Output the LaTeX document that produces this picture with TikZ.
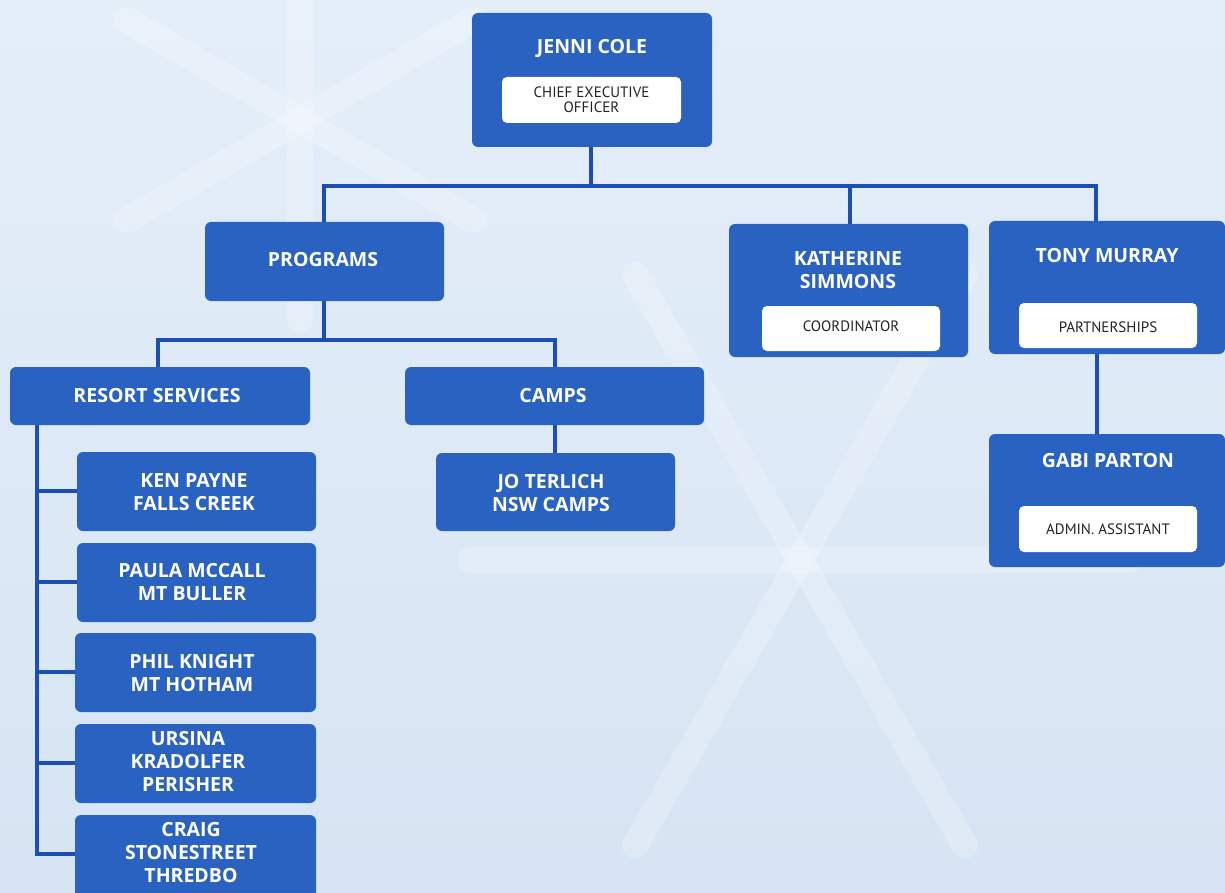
\documentclass[tikz,border=0pt]{standalone}
\usepackage{fontspec}
\setmainfont{Open Sans}
\newfontfamily\rolefont{PT Sans}
\definecolor{bgA}{HTML}{E4EEF9}
\definecolor{bgB}{HTML}{D6E4F3}
\definecolor{boxblue}{HTML}{2A62C2}
\definecolor{lineblue}{HTML}{1C4FB3}
\definecolor{roletext}{HTML}{222222}
\tikzset{
  x=1pt, y=-1pt,
  card/.style={fill=boxblue, rounded corners=6pt, draw=none},
  title/.style={text=white, font=\fontsize{19.5}{23}\selectfont\bfseries, align=center},
  rolebox/.style={fill=white, rounded corners=5pt, text=roletext, font=\rolefont\fontsize{15}{15}\selectfont, align=center, inner sep=0pt},
  conn/.style={draw=lineblue, line width=4pt},
  flake/.style={draw=white, opacity=0.22, line width=26pt, line cap=round},
}
\begin{document}
\begin{tikzpicture}
\useasboundingbox (0,0) rectangle (1225,893);
\shade[top color=bgA, bottom color=bgB] (0,0) rectangle (1225,893);
% faint snowflake hints
\foreach \a in {0,60,120} {
  \draw[flake] (800,560) ++(\a:-330) -- ++(\a:660);
}
\foreach \a in {30,90,150} {
  \draw[flake] (300,120) ++(\a:-200) -- ++(\a:400);
}

% CEO
\path[card] (472,13) rectangle (712,147);
\node[title] (ceo) at (592,48) {JENNI COLE};
\path[rolebox] (502,77) rectangle (681,123);
\node[rolebox, fill=none] (ceor) at (591.5,100) {CHIEF EXECUTIVE\\OFFICER};
\coordinate (ceob) at (591,147);

% Programs
\path[card] (205,222) rectangle (444,301);
\node[title] (prog) at (323,260) {PROGRAMS};
\coordinate (progt) at (324,222);
\coordinate (progb) at (324,301);

% Katherine
\path[card] (729,224) rectangle (968,357);
\node[title] (kath) at (848,270) {KATHERINE\\SIMMONS};
\path[rolebox] (762,306) rectangle (940,351);
\node[rolebox, fill=none] (kathr) at (851,326) {COORDINATOR};
\coordinate (katht) at (850,224);

% Tony
\path[card] (989,221) rectangle (1225,354);
\node[title] (tony) at (1107,256) {TONY MURRAY};
\path[rolebox] (1019,303) rectangle (1197,348);
\node[rolebox, fill=none] (tonyr) at (1108,327) {PARTNERSHIPS};
\coordinate (tonyt) at (1096,221);
\coordinate (tonyb) at (1097,354);

% Gabi
\path[card] (989,434) rectangle (1225,567);
\node[title] (gabi) at (1108,461) {GABI PARTON};
\path[rolebox] (1019,506) rectangle (1197,552);
\node[rolebox, fill=none] (gabir) at (1108,529) {ADMIN. ASSISTANT};
\coordinate (gabit) at (1097,434);

% Resort services
\path[card] (10,367) rectangle (310,425);
\node[title] (res) at (157,396) {RESORT SERVICES};
\coordinate (rest) at (158,367);
\coordinate (resb) at (37,425);

% Camps
\path[card] (405,367) rectangle (704,425);
\node[title] (camps) at (553,396) {CAMPS};
\coordinate (campst) at (555,367);
\coordinate (campsb) at (555,425);

% Jo Terlich
\path[card] (436,453) rectangle (675,531);
\node[title] (jo) at (551,493) {JO TERLICH\\NSW CAMPS};
\coordinate (jot) at (555,453);

% Resort children
\path[card] (77,452) rectangle (316,531);
\node[title] (ken) at (194,492) {KEN PAYNE\\FALLS CREEK};
\path[card] (77,543) rectangle (316,622);
\node[title] (paula) at (192,582) {PAULA MCCALL\\MT BULLER};
\path[card] (75,633) rectangle (316,712);
\node[title] (phil) at (192,673) {PHIL KNIGHT\\MT HOTHAM};
\path[card] (75,724) rectangle (316,803);
\node[title] (urs) at (188,762) {URSINA\\KRADOLFER\\PERISHER};
\path[card] (75,815) rectangle (316,900);
\node[title] (craig) at (191,853) {CRAIG\\STONESTREET\\THREDBO};

% connectors
\coordinate (j1) at (591,186);
\draw[conn] (ceob) -- (j1);
\draw[conn] (progt) |- (j1) -| (tonyt);
\draw[conn] (katht) -- (katht |- j1);
\draw[conn] (tonyb) -- (gabit);
\coordinate (j2) at (324,340);
\draw[conn] (progb) -- (j2);
\draw[conn] (rest) |- (j2) -| (campst);
\draw[conn] (campsb) -- (jot);
\coordinate (rend) at (37,856);
\draw[conn] (resb) -- (rend);
\draw[conn] (35,491) -- (77,491);
\draw[conn] (35,582) -- (77,582);
\draw[conn] (35,672) -- (75,672);
\draw[conn] (35,763) -- (75,763);
\draw[conn] (35,854) -- (75,854);
\end{tikzpicture}
\end{document}
